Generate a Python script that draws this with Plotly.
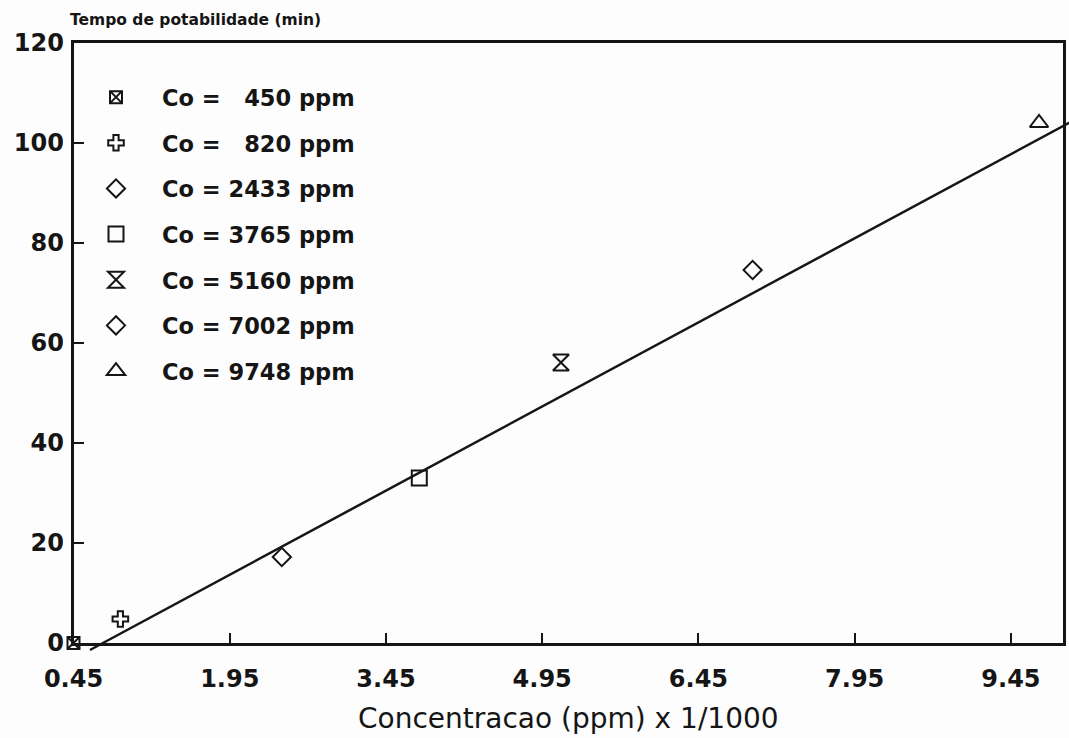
import plotly.graph_objects as go

# Pot-life measurements: concentration (ppm x 1/1000) vs. time (min)
co_labels = ["Co = \u2007450 ppm", "Co = \u2007820 ppm", "Co = 2433 ppm", "Co = 3765 ppm",
             "Co = 5160 ppm", "Co = 7002 ppm", "Co = 9748 ppm"]
conc = [0.45, 0.90, 2.45, 3.77, 5.13, 6.97, 9.72]
tempo = [0.0, 4.8, 17.2, 33.0, 56.1, 74.6, 104.0]
symbols = ["square-x-open", "cross-open", "diamond-open", "square-open",
           "hourglass-open", "diamond-open", "triangle-up-open"]
sizes = [12, 13, 14, 15, 16, 14, 16]

# Fitted straight line (end points)
fit_x = [0.608, 10.05]
fit_y = [-1.4, 104.5]

x_ticks = [0.45, 1.95, 3.45, 4.95, 6.45, 7.95, 9.45]
y_ticks = [0, 20, 40, 60, 80, 100, 120]
x_lim = [0.45, 9.95]
y_lim = [0, 120]

W, H = 1069, 738
# frame of the plotting box in pixels
L, R, T, B = 73.5, 1063.0, 43.0, 643.0

ink = "#151515"
font_family = "DejaVu Sans"

# The data axes span the whole page with the same scale as the frame, so the
# fitted line may run past the frame edges.
sx = (R - L) / (x_lim[1] - x_lim[0])
sy = (B - T) / (y_lim[1] - y_lim[0])
data_xrange = [x_lim[0] - L / sx, x_lim[1] + (W - R) / sx]
data_yrange = [y_lim[0] - (H - B) / sy, y_lim[1] + T / sy]

fig = go.Figure()

for i in range(len(conc)):
    fig.add_trace(go.Scatter(
        x=[conc[i]], y=[tempo[i]], mode="markers", name=co_labels[i],
        legendgroup=f"g{i}",
        marker=dict(symbol=symbols[i], size=sizes[i], color=ink,
                    line=dict(width=2, color=ink)),
        cliponaxis=False,
    ))

fig.add_trace(go.Scatter(
    x=fit_x, y=fit_y, mode="lines", showlegend=False,
    line=dict(color=ink, width=2.5),
))

# empty trace that carries the framed axes
fig.add_trace(go.Scatter(x=[], y=[], xaxis="x2", yaxis="y2", showlegend=False))

tick_font = dict(family=font_family, size=24, color=ink, weight="bold")

fig.update_layout(
    width=W, height=H,
    margin=dict(l=0, r=0, t=0, b=0, pad=0, autoexpand=False),
    paper_bgcolor="#fdfdfd",
    plot_bgcolor="rgba(0,0,0,0)",
    xaxis=dict(domain=[0, 1], range=data_xrange, visible=False, fixedrange=True,
               automargin=False),
    yaxis=dict(domain=[0, 1], range=data_yrange, visible=False, fixedrange=True,
               automargin=False),
    xaxis2=dict(
        domain=[L / W, R / W], range=x_lim, anchor="y2", automargin=False,
        tickvals=x_ticks, ticktext=[f"{v:.2f}" for v in x_ticks],
        ticks="inside", ticklen=10, tickwidth=2, tickcolor=ink,
        showline=True, mirror=True, linewidth=2.5, linecolor=ink,
        showgrid=False, zeroline=False, tickfont=tick_font,
        ticklabelstandoff=12,
    ),
    yaxis2=dict(
        domain=[(H - B) / H, (H - T) / H], range=y_lim, anchor="x2", automargin=False,
        tickvals=y_ticks, ticks="inside", ticklen=11, tickwidth=2, tickcolor=ink,
        showline=True, mirror=True, linewidth=2.5, linecolor=ink,
        showgrid=False, zeroline=False, tickfont=tick_font,
        ticklabelstandoff=2,
    ),
    showlegend=True,
    legend=dict(
        x=70 / W, y=1 - 76 / H, xanchor="left", yanchor="top",
        traceorder="grouped", tracegroupgap=13.4,
        bgcolor="rgba(0,0,0,0)", borderwidth=0,
        font=dict(family=font_family, size=22.5, color=ink, weight="bold"),
        itemsizing="trace", itemwidth=82,
    ),
    annotations=[
        dict(text="Tempo de potabilidade (min)", x=68 / W, y=1 - 20 / H,
             xref="paper", yref="paper", xanchor="left", yanchor="middle",
             showarrow=False,
             font=dict(family=font_family, size=15.5, color=ink, weight="bold")),
        dict(text="Concentracao (ppm) x 1/1000", x=568 / W, y=1 - 718 / H,
             xref="paper", yref="paper", xanchor="center", yanchor="middle",
             showarrow=False,
             font=dict(family=font_family, size=28, color=ink)),
    ],
)

fig.write_html("out.html")
